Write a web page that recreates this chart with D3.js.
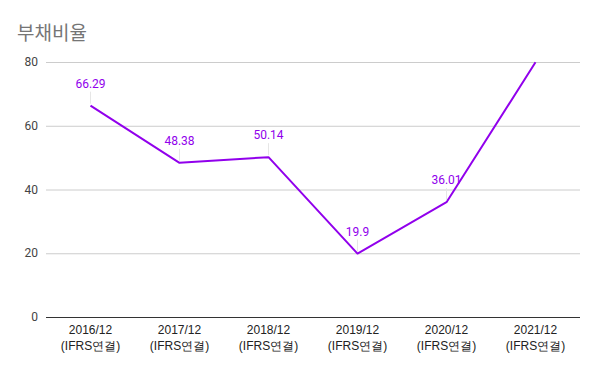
<!DOCTYPE html>
<html>
<head>
<meta charset="utf-8">
<script src="https://cdn.jsdelivr.net/npm/d3@7"></script>
<style>
  body { margin: 0; background: #fff; }
  svg { display: block; }
</style>
</head>
<body>
<div id="chart"></div>
<script>
// 부채비율 line chart

var years = ["2016/12", "2017/12", "2018/12", "2019/12", "2020/12", "2021/12"];
var subLabel = "(IFRS연결)";
var values = [66.29, 48.38, 50.14, 19.9, 36.01, 79.9];
var showLabel = [true, true, true, true, true, false];
var yTicks = [0, 20, 40, 60, 80];

var width = 600, height = 371;
var margin = {top: 62, right: 20, bottom: 54, left: 46};

var svg = d3.select("#chart")
    .append("svg")
    .attr("width", width)
    .attr("height", height);

var x = d3.scaleBand()
    .domain(years)
    .range([margin.left, width - margin.right]);

var y = d3.scaleLinear()
    .domain([0, 80])
    .range([height - margin.bottom, margin.top]);

// title
svg.append("text")
    .attr("x", 17)
    .attr("y", 40)
    .attr("font-family", "Noto Sans CJK KR, Roboto, sans-serif")
    .attr("font-size", 19)
    .attr("fill", "#757575")
    .text("부채비율");

// gridlines
svg.append("g")
    .selectAll("line")
    .data(yTicks)
    .enter()
    .append("line")
        .attr("x1", margin.left)
        .attr("x2", width - margin.right)
        .attr("y1", d => y(d) + 0.5)
        .attr("y2", d => y(d) + 0.5)
        .attr("stroke", d => d === 0 ? "#333" : "#ccc")
        .attr("stroke-width", 1);

// y tick labels
svg.append("g")
    .selectAll("text")
    .data(yTicks)
    .enter()
    .append("text")
        .attr("x", margin.left - 8)
        .attr("y", d => y(d) + 4)
        .attr("text-anchor", "end")
        .attr("font-family", "Roboto, sans-serif")
        .attr("font-size", 12)
        .attr("fill", "#444")
        .text(d => d);

// x labels
var xl = svg.append("g")
    .selectAll("text")
    .data(years)
    .enter()
    .append("text")
        .attr("text-anchor", "middle")
        .attr("font-family", "Liberation Sans, Arial, sans-serif")
        .attr("font-size", 12)
        .attr("fill", "#222");
xl.append("tspan")
    .attr("x", d => x(d) + x.bandwidth() / 2)
    .attr("y", 334)
    .text(d => d);
xl.append("tspan")
    .attr("x", d => x(d) + x.bandwidth() / 2)
    .attr("y", 350)
    .text(subLabel);

var data = years.map((d, i) => ({year: d, value: values[i], label: showLabel[i]}));

// line
svg.append("path")
    .datum(data)
    .attr("fill", "none")
    .attr("stroke", "#9100ec")
    .attr("stroke-width", 2)
    .attr("stroke-linejoin", "round")
    .attr("d", d3.line()
        .x(d => x(d.year) + x.bandwidth() / 2)
        .y(d => y(d.value)));

// data labels with leader lines
var lab = svg.append("g")
    .selectAll("g")
    .data(data.filter(d => d.label))
    .enter()
    .append("g");
lab.append("line")
    .attr("x1", d => x(d.year) + x.bandwidth() / 2)
    .attr("x2", d => x(d.year) + x.bandwidth() / 2)
    .attr("y1", d => y(d.value) - 2)
    .attr("y2", d => y(d.value) - 14)
    .attr("stroke", "#e6e6e6")
    .attr("stroke-width", 1);
lab.append("text")
    .attr("x", d => x(d.year) + x.bandwidth() / 2)
    .attr("y", d => y(d.value) - 18)
    .attr("text-anchor", "middle")
    .attr("font-family", "Roboto, sans-serif")
    .attr("font-size", 12)
    .attr("fill", "#9100ec")
    .text(d => d.value);
</script>
</body>
</html>
